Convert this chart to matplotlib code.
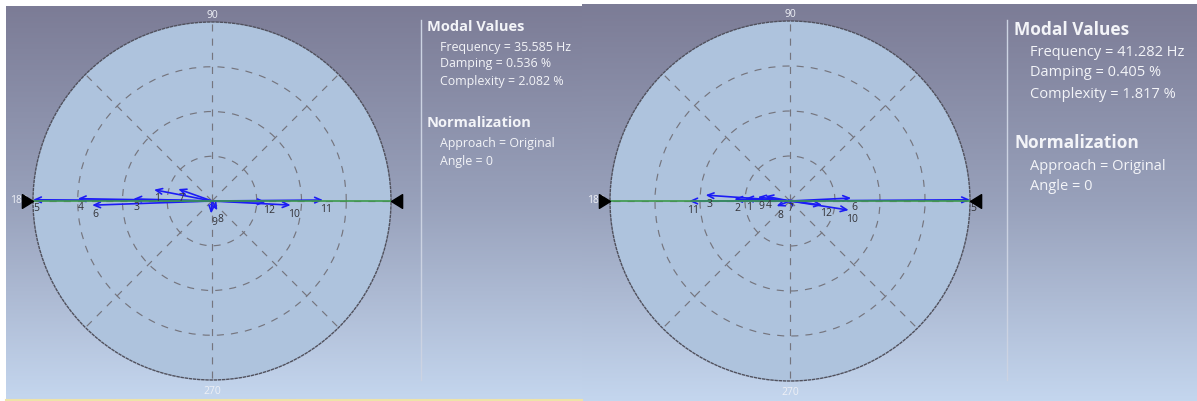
import numpy as np
import matplotlib.pyplot as plt
from matplotlib.colors import LinearSegmentedColormap
from matplotlib.path import Path

plt.rcParams['font.family'] = ['Open Sans', 'DejaVu Sans']

W, H = 1197, 401

# mode shape vectors: label, phase angle (deg), normalized magnitude
left_labels = ['5', '4', '6', '3', '1', '7', '12', '10', '11', '9', '8']
left_angles = [179.6, 179, 182, 178.5, 169, 160.5, -1, -3, 0.5, 266, 300]
left_mags = [1.0, 0.75, 0.67, 0.44, 0.33, 0.20, 0.30, 0.44, 0.62, 0.07, 0.06]

right_labels = ['5', '6', '10', '12', '11', '3', '2', '1', '9', '4', '8', '7']
right_angles = [0.4, 2.8, -8.8, -7, 180, 176, 178, 177, 173, 169, 201, 150]
right_mags = [1.0, 0.34, 0.33, 0.18, 0.56, 0.47, 0.31, 0.25, 0.18, 0.14, 0.08, 0.02]

# angle labels around the circle (0 is hidden behind the marker)
angle_ticks = [90, 180, 270]
angle_offsets = [(0, 5), (-10, 0), (0, -8.5)]

left_modal = ['Frequency = 35.585 Hz', 'Damping = 0.536 %', 'Complexity = 2.082 %']
right_modal = ['Frequency = 41.282 Hz', 'Damping = 0.405 %', 'Complexity = 1.817 %']
norm_lines = ['Approach = Original', 'Angle = 0']

fig = plt.figure(figsize=(W / 100, H / 100), dpi=100, facecolor='white')

# background panels with vertical gradient
bg = fig.add_axes([0, 0, 1, 1])
bg.set_xlim(0, W)
bg.set_ylim(H, 0)
bg.axis('off')
cmap = LinearSegmentedColormap.from_list('bg', ['#7c7c96', '#98a1bb', '#c4d6ee'])
grad = np.linspace(0, 1, 256).reshape(-1, 1)
bg.imshow(grad, cmap=cmap, aspect='auto', extent=[6, 582, 399, 6])
bg.imshow(grad, cmap=cmap, aspect='auto', extent=[582, W, H, 4])
bg.plot([6, 582], [399.5, 399.5], color='#efe3a8', lw=1.5)
bg.plot([421, 421], [20, 380], color='#ccd3e2', lw=1)
bg.plot([1007, 1007], [20, 380], color='#ccd3e2', lw=1)

tip_marker = Path([(0, 0), (-1, 0.62), (-1, -0.62), (0, 0)],
                  [Path.MOVETO, Path.LINETO, Path.LINETO, Path.CLOSEPOLY])
tip_marker_r = Path(-tip_marker.vertices, tip_marker.codes)


def polar_panel(cx, cy, R, labels, angles, mags):
    ax = fig.add_axes([(cx - R) / W, (H - cy - R) / H, 2 * R / W, 2 * R / H],
                      projection='polar')
    ax.set_facecolor('#aec3dd')
    ax.set_ylim(0, 1)
    ax.set_rticks([0.25, 0.5, 0.75])
    ax.set_yticklabels([])
    ax.set_thetagrids(range(0, 360, 45), labels=[''] * 8)
    ax.grid(True, color='#75757e', linestyle=(0, (6, 6)), lw=0.85)
    ax.spines['polar'].set_linestyle((0, (1.5, 1.5)))
    ax.spines['polar'].set_color('#50505c')
    ax.spines['polar'].set_linewidth(1)

    for t, off in zip(angle_ticks, angle_offsets):
        ax.annotate(str(t), xy=(np.deg2rad(t), 1), xytext=off,
                    textcoords='offset points', ha='center', va='center',
                    fontsize=7.5, color='#eef0f6', annotation_clip=False,
                    zorder=5)

    for lbl, a, m in zip(labels, angles, mags):
        th = np.deg2rad(a)
        ax.annotate('', xy=(th, m), xytext=(0, 0),
                    arrowprops=dict(arrowstyle='->,head_length=0.45,head_width=0.2',
                                    color='#1c1cf5', lw=1.2, shrinkA=0, shrinkB=0),
                    zorder=4)
        ax.annotate(lbl, xy=(th, m), xytext=(2.5, -6.5), textcoords='offset points',
                    ha='center', va='center', fontsize=7.5, color='#333338',
                    zorder=5)

    # reference axis through the center
    ax.plot([np.pi, np.pi, 0, 0], [1, 0, 0, 1], color='#3c9a4a', lw=1.2, zorder=4.5)
    ax.plot([np.pi], [1], marker=tip_marker, ms=16, color='black',
            clip_on=False, zorder=6)
    ax.plot([0], [1], marker=tip_marker_r, ms=16, color='black',
            clip_on=False, zorder=6)
    return ax


polar_panel(212, 201, 179, left_labels, left_angles, left_mags)
polar_panel(790, 201, 180, right_labels, right_angles, right_mags)


def text_block(x0, x1, ys, modal, size_h, size_t):
    tc = '#f3f4f8'
    fig.text(x0 / W, 1 - ys[0] / H, 'Modal Values', fontsize=size_h,
             fontweight='bold', color=tc, va='center')
    for s, y in zip(modal, ys[1:4]):
        fig.text(x1 / W, 1 - y / H, s, fontsize=size_t, color=tc, va='center')
    fig.text(x0 / W, 1 - ys[4] / H, 'Normalization', fontsize=size_h,
             fontweight='bold', color=tc, va='center')
    for s, y in zip(norm_lines, ys[5:7]):
        fig.text(x1 / W, 1 - y / H, s, fontsize=size_t, color=tc, va='center')


text_block(427, 440, [27, 47, 64, 81, 123, 143, 162], left_modal, 10.5, 8.9)
text_block(1014, 1030, [30, 52, 73, 95, 143, 166, 187], right_modal, 12.5, 10.5)

plt.savefig('out.png', dpi=100, facecolor=fig.get_facecolor())
